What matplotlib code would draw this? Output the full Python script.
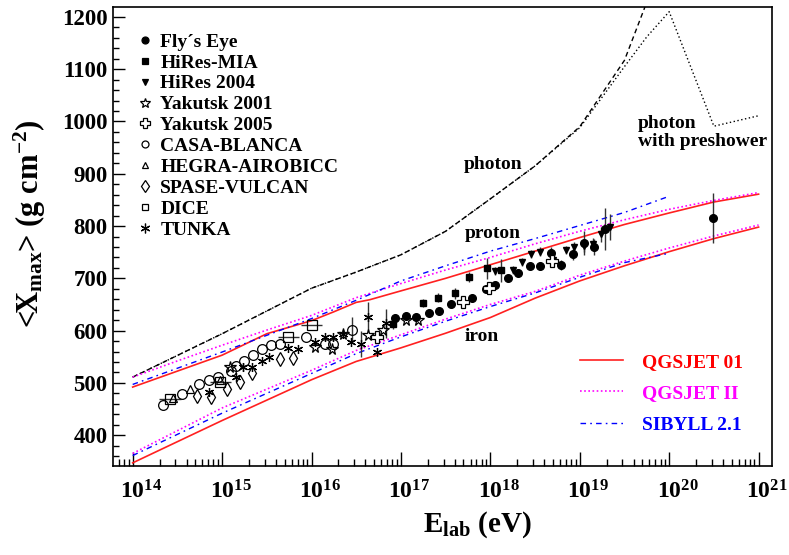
import numpy as np
import matplotlib
matplotlib.use("Agg")
import matplotlib.pyplot as plt
from matplotlib.lines import Line2D
from matplotlib.ticker import FixedLocator, FuncFormatter, MultipleLocator
from matplotlib.transforms import ScaledTranslation

plt.rcParams['font.family'] = 'Liberation Serif'
plt.rcParams['font.weight'] = 'bold'
plt.rcParams['mathtext.fontset'] = 'custom'
plt.rcParams['mathtext.rm'] = 'Liberation Serif:bold'
plt.rcParams['mathtext.it'] = 'Liberation Serif:bold'
plt.rcParams['mathtext.bf'] = 'Liberation Serif:bold'

# ---- model curves (log10 E, <Xmax>) ----
ph_logE = [14, 15, 16, 16.5, 17, 17.5, 18, 18.5, 19, 19.5, 20]
ph_X = [511, 594, 681, 712, 745, 790, 852, 915, 990, 1117, 1340]

ps_logE = [14, 15, 16, 16.5, 17, 17.5, 18, 18.5, 19, 19.5, 19.75, 20, 20.5, 21]
ps_X = [511, 594, 681, 712, 745, 790, 852, 915, 988, 1105, 1162, 1210, 991, 1011]

q01_p_logE = [14, 15, 15.5, 16, 16.25, 16.5, 16.65, 17, 17.5, 18, 18.5, 19, 19.5, 20, 20.5, 21]
q01_p_X = [492, 553, 594, 619, 636, 654, 659, 676, 700, 726, 752, 778, 803, 825, 846, 861]
q01_fe_logE = [14, 15, 16, 16.5, 17, 17.5, 18, 18.5, 19, 19.5, 20, 20.5, 21]
q01_fe_X = [347, 428, 506, 541, 567, 595, 625, 662, 695, 724, 751, 776, 798]

q2_p_logE = [14, 14.5, 15, 15.5, 16, 16.5, 17, 17.5, 18, 18.5, 19, 19.5, 20, 20.5, 21]
q2_p_X = [511, 542, 572, 601, 629, 663, 690, 716, 740, 766, 790, 812, 832, 849, 864]
q2_fe_logE = [14, 15, 16, 16.5, 17, 17.5, 18, 18.5, 19, 19.5, 20, 20.5, 21]
q2_fe_X = [365, 452, 524, 562, 592, 622, 650, 675, 706, 733, 758, 781, 802]

sib_p_logE = [14, 15, 15.5, 16, 16.5, 17, 17.5, 18, 18.5, 19, 19.5, 20]
sib_p_X = [497, 559, 591, 623, 658, 695, 724, 752, 776, 801, 826, 857]
sib_fe_logE = [14, 15, 16, 16.5, 17, 17.5, 18, 18.5, 19, 19.5, 20]
sib_fe_X = [361, 442, 518, 556, 588, 618, 646, 672, 702, 730, 748]

# ---- measurements ----
fe_logE = [16.93, 17.06, 17.17, 17.31, 17.43, 17.56, 17.80, 17.95, 18.05, 18.20,
           18.31, 18.44, 18.55, 18.68, 18.79, 18.92, 19.05, 19.16, 19.28, 20.49]
fe_X = [624, 628, 626, 634, 637, 650, 662, 679, 687, 700,
        711, 723, 723, 749, 725, 747, 768, 760, 794, 815]
fe_err = [6, 6, 6, 6, 6, 6, 6, 6, 6, 6, 6, 6, 8, 10, 10, 12, 23, 15, 40, 48]

mia_logE = [16.91, 17.25, 17.42, 17.61, 17.76, 17.96, 18.12]
mia_X = [612, 653, 663, 671, 703, 719, 715]
mia_err = [8, 8, 8, 10, 10, 20, 22]

hr_logE = [18.05, 18.25, 18.35, 18.46, 18.55, 18.70, 18.85, 18.94, 19.05, 19.15, 19.24, 19.34]
hr_X = [714, 716, 731, 746, 751, 736, 754, 759, 762, 766, 784, 798]
hr_err = [8, 8, 8, 8, 8, 8, 8, 10, 12, 12, 15, 25]

yk1_logE = [15.09, 16.04, 16.23, 16.35, 16.63, 16.80, 17.06, 17.19]
yk1_X = [531, 569, 564, 594, 591, 601, 620, 620]

yk5_logE = [16.73, 17.69, 17.99, 18.69]
yk5_X = [588, 655, 682, 733]

cb_logE = [14.34, 14.55, 14.74, 14.85, 14.95, 15.10, 15.15, 15.24, 15.35, 15.45,
           15.55, 15.65, 15.94, 16.15, 16.24, 16.45]
cb_X = [457, 478, 497, 505, 511, 523, 532, 541, 554, 564, 573, 575, 588, 575, 574, 601]
cb_err = [0, 0, 0, 0, 0, 0, 0, 0, 0, 0, 0, 0, 0, 0, 0, 25]

hg_logE = [14.45, 14.64, 14.98]
hg_X = [472, 489, 505]

sv_logE = [14.72, 14.88, 15.05, 15.20, 15.34, 15.65, 15.79]
sv_X = [475, 473, 489, 502, 518, 545, 547]

dice_logE = [14.42, 14.98, 15.74, 16.00]
dice_X = [470, 502, 588, 610]

tk_logE = [14.85, 15.15, 15.23, 15.34, 15.45, 15.53, 15.74, 15.85, 16.04, 16.15,
           16.24, 16.35, 16.44, 16.55, 16.63, 16.73, 16.83]
tk_X = [482, 511, 530, 531, 541, 550, 567, 564, 578, 588, 588, 594, 578, 575, 626, 559, 614]
tk_err = [0, 0, 8, 0, 0, 0, 0, 0, 0, 0, 0, 0, 0, 25, 28, 0, 28]

exp_names = ['Fly´s Eye', 'HiRes-MIA', 'HiRes 2004', 'Yakutsk 2001', 'Yakutsk 2005',
             'CASA-BLANCA', 'HEGRA-AIROBICC', 'SPASE-VULCAN', 'DICE', 'TUNKA']
model_names = ['QGSJET 01', 'QGSJET II', 'SIBYLL 2.1']

fig = plt.figure(figsize=(7.89, 5.55), dpi=100)
ax = fig.add_axes([113 / 789, 89 / 555, 659 / 789, 459 / 555])

def E(v):
    return 10.0 ** np.asarray(v)

# model lines
ax.plot(E(ph_logE), ph_X, color='black', lw=1.0, ls=(0, (3.5, 2.5)))
ax.plot(E(ps_logE), ps_X, color='black', lw=1.0, ls=(0, (1, 1.8)))
q01, = ax.plot(E(q01_p_logE), q01_p_X, color='#ff2020', lw=1.2)
ax.plot(E(q01_fe_logE), q01_fe_X, color='#ff2020', lw=1.2)
q2, = ax.plot(E(q2_p_logE), q2_p_X, color='#ff00ff', lw=1.2, ls=(0, (1, 1.5)))
ax.plot(E(q2_fe_logE), q2_fe_X, color='#ff00ff', lw=1.2, ls=(0, (1, 1.5)))
sib, = ax.plot(E(sib_p_logE), sib_p_X, color='#0000ff', lw=1.0, ls=(0, (4, 3, 1.2, 3)))
ax.plot(E(sib_fe_logE), sib_fe_X, color='#0000ff', lw=1.0, ls=(0, (4, 3, 1.2, 3)))

# data
ekw = dict(ecolor='#333333', elinewidth=1.0, capsize=0, ls='none', color='black')
ax.errorbar(E(fe_logE), fe_X, yerr=fe_err, fmt='o', ms=5.5, **ekw)
ax.errorbar(E(mia_logE), mia_X, yerr=mia_err, fmt='s', ms=5, **ekw)
ax.errorbar(E(hr_logE), hr_X, yerr=hr_err, fmt='v', ms=5, **ekw)
ax.errorbar(E(yk1_logE), yk1_X, fmt='*', ms=8.5, mfc='none', mew=0.9, **ekw)
ax.errorbar(E(yk5_logE), yk5_X, fmt='P', ms=8.5, mfc='white', mew=0.9, **ekw)
ax.errorbar(E(cb_logE), cb_X, yerr=cb_err, fmt='o', ms=7, mfc='none', mew=0.9, **ekw)
ax.errorbar(E(hg_logE), hg_X, fmt='^', ms=6, mfc='none', mew=0.9, **ekw)
ax.errorbar(E(sv_logE), sv_X, fmt='d', ms=7, mfc='none', mew=0.9, **ekw)
dice_xerr = [E(dice_logE) - E(np.array(dice_logE) - 0.12), E(np.array(dice_logE) + 0.12) - E(dice_logE)]
ax.errorbar(E(dice_logE), dice_X, xerr=dice_xerr, fmt='s', ms=6.5, mfc='none', mew=0.9, **ekw)
ax.errorbar(E(tk_logE), tk_X, yerr=tk_err, fmt='', marker=(6, 2, 0), ms=6.5, mew=0.9, **ekw)

# text labels
ax.text(E(18.03), 918, 'photon', fontsize=14, ha='center', va='center')
ax.text(E(18.03), 786, 'proton', fontsize=14, ha='center', va='center')
ax.text(E(17.71), 589, 'iron', fontsize=14, ha='left', va='center')
ax.text(E(19.65), 979, 'photon\nwith preshower', fontsize=14, ha='left', va='center',
        linespacing=1.05)

ax.set_xscale('log')
ax.set_xlim(E(13.78), E(21.15))
ax.set_ylim(341, 1219)

ax.xaxis.set_major_locator(FixedLocator(E(np.arange(14, 22))))
ax.xaxis.set_major_formatter(FuncFormatter(lambda v, p: r'$\mathregular{10^{%d}}$' % round(np.log10(v))))
ax.yaxis.set_major_locator(MultipleLocator(100))
ax.yaxis.set_minor_locator(MultipleLocator(20))
ax.tick_params(axis='both', which='both', direction='in', top=False, right=False, width=1.0)
ax.tick_params(axis='x', which='major', length=10, labelsize=17, pad=10)
ax.tick_params(axis='x', which='minor', length=5)
ax.tick_params(axis='y', which='major', length=8.5, labelsize=16.5, pad=4)
ax.tick_params(axis='y', which='minor', length=4.3)
for sp in ax.spines.values():
    sp.set_linewidth(1.2)
for lab in ax.get_xticklabels():
    lab.set_transform(lab.get_transform() + ScaledTranslation(6 / 72, 0, fig.dpi_scale_trans))

ax.set_xlabel(r'E$_{\mathregular{lab}}$ (eV)', fontsize=21, fontweight='bold')
ax.set_ylabel(r'<X$_{\mathregular{max}}$> (g cm$^{\mathregular{-2}}$)', fontsize=22, fontweight='bold')
ax.xaxis.set_label_coords(0.553, -0.094)
ax.yaxis.set_label_coords(-0.098, 0.527)

# legends (marker-only proxies)
mk = dict(color='black', ls='none', mew=0.9)
exp_handles = [
    Line2D([], [], marker='o', ms=5, **mk),
    Line2D([], [], marker='s', ms=4.5, **mk),
    Line2D([], [], marker='v', ms=4.5, **mk),
    Line2D([], [], marker='*', ms=7, mfc='none', **mk),
    Line2D([], [], marker='P', ms=7, mfc='white', **mk),
    Line2D([], [], marker='o', ms=5, mfc='none', **mk),
    Line2D([], [], marker='^', ms=5, mfc='none', **mk),
    Line2D([], [], marker='d', ms=6, mfc='none', **mk),
    Line2D([], [], marker='s', ms=4.5, mfc='none', **mk),
    Line2D([], [], marker=(6, 2, 0), ms=7, **mk),
]
leg1 = ax.legend(exp_handles, exp_names,
                 loc='upper left', bbox_to_anchor=(24 / 659, 433 / 459), frameon=False,
                 fontsize=14, handlelength=0.8, handletextpad=0.4, labelspacing=0.17,
                 borderpad=0, borderaxespad=0)
ax.add_artist(leg1)
leg2 = ax.legend([q01, q2, sib], model_names,
                 loc='upper left', bbox_to_anchor=(467 / 659, 113 / 459), frameon=False,
                 fontsize=14, handlelength=2.2, handletextpad=1.0, labelspacing=0.72,
                 borderpad=0, borderaxespad=0)
for t, c in zip(leg2.get_texts(), ['#ff0000', '#ff00ff', '#0000ff']):
    t.set_color(c)

fig.savefig('out.png', dpi=100)
